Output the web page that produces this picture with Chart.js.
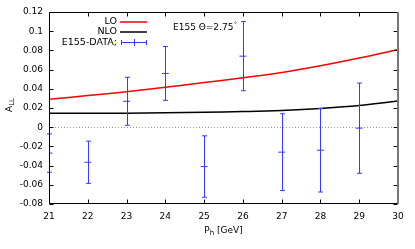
<!DOCTYPE html>
<html>
<head>
<meta charset="utf-8">
<script src="https://cdn.jsdelivr.net/npm/chart.js@4/dist/chart.umd.min.js"></script>
<style>
  html, body { margin: 0; padding: 0; background: #fff; }
</style>
</head>
<body>
<canvas id="asym" width="415" height="249"></canvas>
<script>
// theory curves, sampled at each GeV
const ph = [21, 22, 23, 24, 25, 26, 27, 28, 29, 30];
const lo = [0.029, 0.033, 0.037, 0.0415, 0.0465, 0.0515, 0.057, 0.064, 0.072, 0.081];
const nlo = [0.0145, 0.0145, 0.0146, 0.015, 0.0155, 0.0163, 0.0175, 0.0195, 0.0225, 0.0272];

// E155 data points with symmetric errors
const dataPh = [21, 22, 23, 24, 25, 26, 27, 28, 29];
const dataAll = [-0.027, -0.0365, 0.027, 0.056, -0.041, 0.074, -0.026, -0.024, -0.001];
const dataErr = [0.02, 0.022, 0.025, 0.028, 0.032, 0.036, 0.040, 0.0435, 0.047];

const yTicks = [-0.08, -0.06, -0.04, -0.02, 0, 0.02, 0.04, 0.06, 0.08, 0.1, 0.12];

const FONT = 'DejaVu Sans';
const BLUE = '#3a3aff';

const decor = {
    id: 'decor',
    beforeDatasetsDraw(chart) {
        const { ctx, chartArea: a, scales: { x, y } } = chart;
        // dotted zero line
        ctx.save();
        ctx.strokeStyle = '#999';
        ctx.lineWidth = 1;
        ctx.setLineDash([1, 2]);
        const y0 = Math.round(y.getPixelForValue(0)) + 0.5;
        ctx.beginPath();
        ctx.moveTo(a.left, y0);
        ctx.lineTo(a.right, y0);
        ctx.stroke();
        ctx.restore();
    },
    afterDatasetsDraw(chart) {
        const { ctx, chartArea: a, scales: { x, y } } = chart;
        ctx.save();
        // error bars
        ctx.strokeStyle = BLUE;
        ctx.lineWidth = 1;
        dataPh.forEach((p, i) => {
            const px = Math.round(x.getPixelForValue(p)) + 0.5;
            const top = Math.max(y.getPixelForValue(dataAll[i] + dataErr[i]), a.top);
            const bot = Math.min(y.getPixelForValue(dataAll[i] - dataErr[i]), a.bottom);
            ctx.beginPath();
            ctx.moveTo(px, top);
            ctx.lineTo(px, bot);
            ctx.moveTo(px - 2.5, top);
            ctx.lineTo(px + 2.5, top);
            ctx.moveTo(px - 2.5, bot);
            ctx.lineTo(px + 2.5, bot);
            ctx.stroke();
        });
        ctx.restore();

        // frame and inward ticks
        ctx.save();
        ctx.strokeStyle = '#000';
        ctx.lineWidth = 1;
        const L = a.left + 0.5, R = a.right - 0.5, T = a.top + 0.5, B = a.bottom - 0.5;
        ctx.beginPath();
        ctx.moveTo(R, T);
        ctx.lineTo(L, T);
        ctx.lineTo(L, B);
        ctx.lineTo(R, B);
        x.ticks.forEach(t => {
            const px = Math.round(x.getPixelForValue(t.value)) + 0.5;
            ctx.moveTo(px, B); ctx.lineTo(px, B - 4);
            ctx.moveTo(px, T); ctx.lineTo(px, T + 4);
        });
        y.ticks.forEach(t => {
            const py = Math.round(y.getPixelForValue(t.value)) + 0.5;
            ctx.moveTo(L, py); ctx.lineTo(L + 4, py);
            ctx.moveTo(R, py); ctx.lineTo(R - 4, py);
        });
        ctx.stroke();
        ctx.strokeStyle = '#777';
        ctx.lineWidth = 2;
        ctx.beginPath();
        ctx.moveTo(a.right, a.top);
        ctx.lineTo(a.right, a.bottom);
        ctx.stroke();
        ctx.restore();

        // legend
        ctx.save();
        ctx.font = '9.5px "' + FONT + '"';
        ctx.fillStyle = '#000';
        ctx.textAlign = 'right';
        ctx.textBaseline = 'middle';
        const rows = [['LO', 22], ['NLO', 32], ['E155-DATA;', 42.5]];
        rows.forEach(r => ctx.fillText(r[0], 117, r[1]));
        ctx.lineWidth = 1.5;
        ctx.strokeStyle = '#ff0000';
        ctx.beginPath(); ctx.moveTo(120, 22); ctx.lineTo(147, 22); ctx.stroke();
        ctx.strokeStyle = '#000';
        ctx.beginPath(); ctx.moveTo(120, 32); ctx.lineTo(147, 32); ctx.stroke();
        ctx.strokeStyle = BLUE;
        ctx.lineWidth = 1;
        ctx.beginPath();
        ctx.moveTo(121, 42.5); ctx.lineTo(147, 42.5);
        ctx.moveTo(121.5, 40); ctx.lineTo(121.5, 45);
        ctx.moveTo(146.5, 40); ctx.lineTo(146.5, 45);
        ctx.moveTo(134.5, 39); ctx.lineTo(134.5, 46);
        ctx.stroke();

        // annotation
        ctx.font = '9px "' + FONT + '"';
        ctx.textAlign = 'left';
        ctx.fillText('E155 \u0398=2.75', 173, 28);
        const w = ctx.measureText('E155 \u0398=2.75').width;
        ctx.font = '6px "' + FONT + '"';
        ctx.fillText('\u00b0', 173 + w + 0.5, 24);

        // axis titles with subscripts
        ctx.textAlign = 'left';
        const xt = 'P', xs = 'h', xr = ' [GeV]';
        ctx.font = '9px "' + FONT + '"';
        const w1 = ctx.measureText(xt).width;
        const w3 = ctx.measureText(xr).width;
        ctx.font = '7px "' + FONT + '"';
        const w2 = ctx.measureText(xs).width;
        let sx = (a.left + a.right) / 2 - (w1 + w2 + w3) / 2;
        ctx.font = '9px "' + FONT + '"';
        ctx.fillText(xt, sx, 231);
        ctx.font = '7px "' + FONT + '"';
        ctx.fillText(xs, sx + w1, 233.5);
        ctx.font = '9px "' + FONT + '"';
        ctx.fillText(xr, sx + w1 + w2, 231);

        ctx.translate(10, 105);
        ctx.rotate(-Math.PI / 2);
        ctx.font = '9px "' + FONT + '"';
        const wa = ctx.measureText('A').width;
        ctx.font = '7px "' + FONT + '"';
        const wl = ctx.measureText('LL').width;
        const ax = -(wa + wl) / 2;
        ctx.font = '9px "' + FONT + '"';
        ctx.fillText('A', ax, 0);
        ctx.font = '7px "' + FONT + '"';
        ctx.fillText('LL', ax + wa, 2.5);
        ctx.restore();
    }
};

new Chart(document.getElementById('asym'), {
    type: 'line',
    data: {
        datasets: [
            {
                label: 'LO',
                data: ph.map((p, i) => ({ x: p, y: lo[i] })),
                borderColor: '#ff0000',
                borderWidth: 1.5,
                pointRadius: 0,
                tension: 0.4
            },
            {
                label: 'NLO',
                data: ph.map((p, i) => ({ x: p, y: nlo[i] })),
                borderColor: '#000',
                borderWidth: 1.5,
                pointRadius: 0,
                tension: 0.4
            },
            {
                label: 'E155-DATA;',
                type: 'scatter',
                data: dataPh.map((p, i) => ({ x: p, y: dataAll[i] })),
                borderColor: BLUE,
                backgroundColor: BLUE,
                pointStyle: 'line',
                pointRadius: 3.5,
                borderWidth: 1
            }
        ]
    },
    options: {
        responsive: false,
        maintainAspectRatio: false,
        animation: false,
        clip: true,
        layout: { padding: { top: 12, right: 17, left: 0, bottom: 0 } },
        plugins: { legend: { display: false }, tooltip: { enabled: false } },
        scales: {
            x: {
                type: 'linear',
                min: 21,
                max: 30,
                grid: { display: false, drawTicks: false },
                border: { display: false },
                ticks: {
                    stepSize: 1,
                    padding: 7,
                    color: '#000',
                    font: { family: FONT, size: 9 },
                    maxRotation: 0,
                    autoSkip: false
                },
                afterFit: s => { s.height = 45; }
            },
            y: {
                type: 'linear',
                min: -0.08,
                max: 0.12,
                grid: { display: false, drawTicks: false },
                border: { display: false },
                afterBuildTicks: s => { s.ticks = yTicks.map(v => ({ value: v })); },
                ticks: {
                    padding: 6,
                    color: '#000',
                    font: { family: FONT, size: 9 },
                    autoSkip: false,
                    callback: v => String(Math.round(v * 100) / 100)
                },
                afterFit: s => { s.width = 49; }
            }
        }
    },
    plugins: [decor]
});
</script>
</body>
</html>
